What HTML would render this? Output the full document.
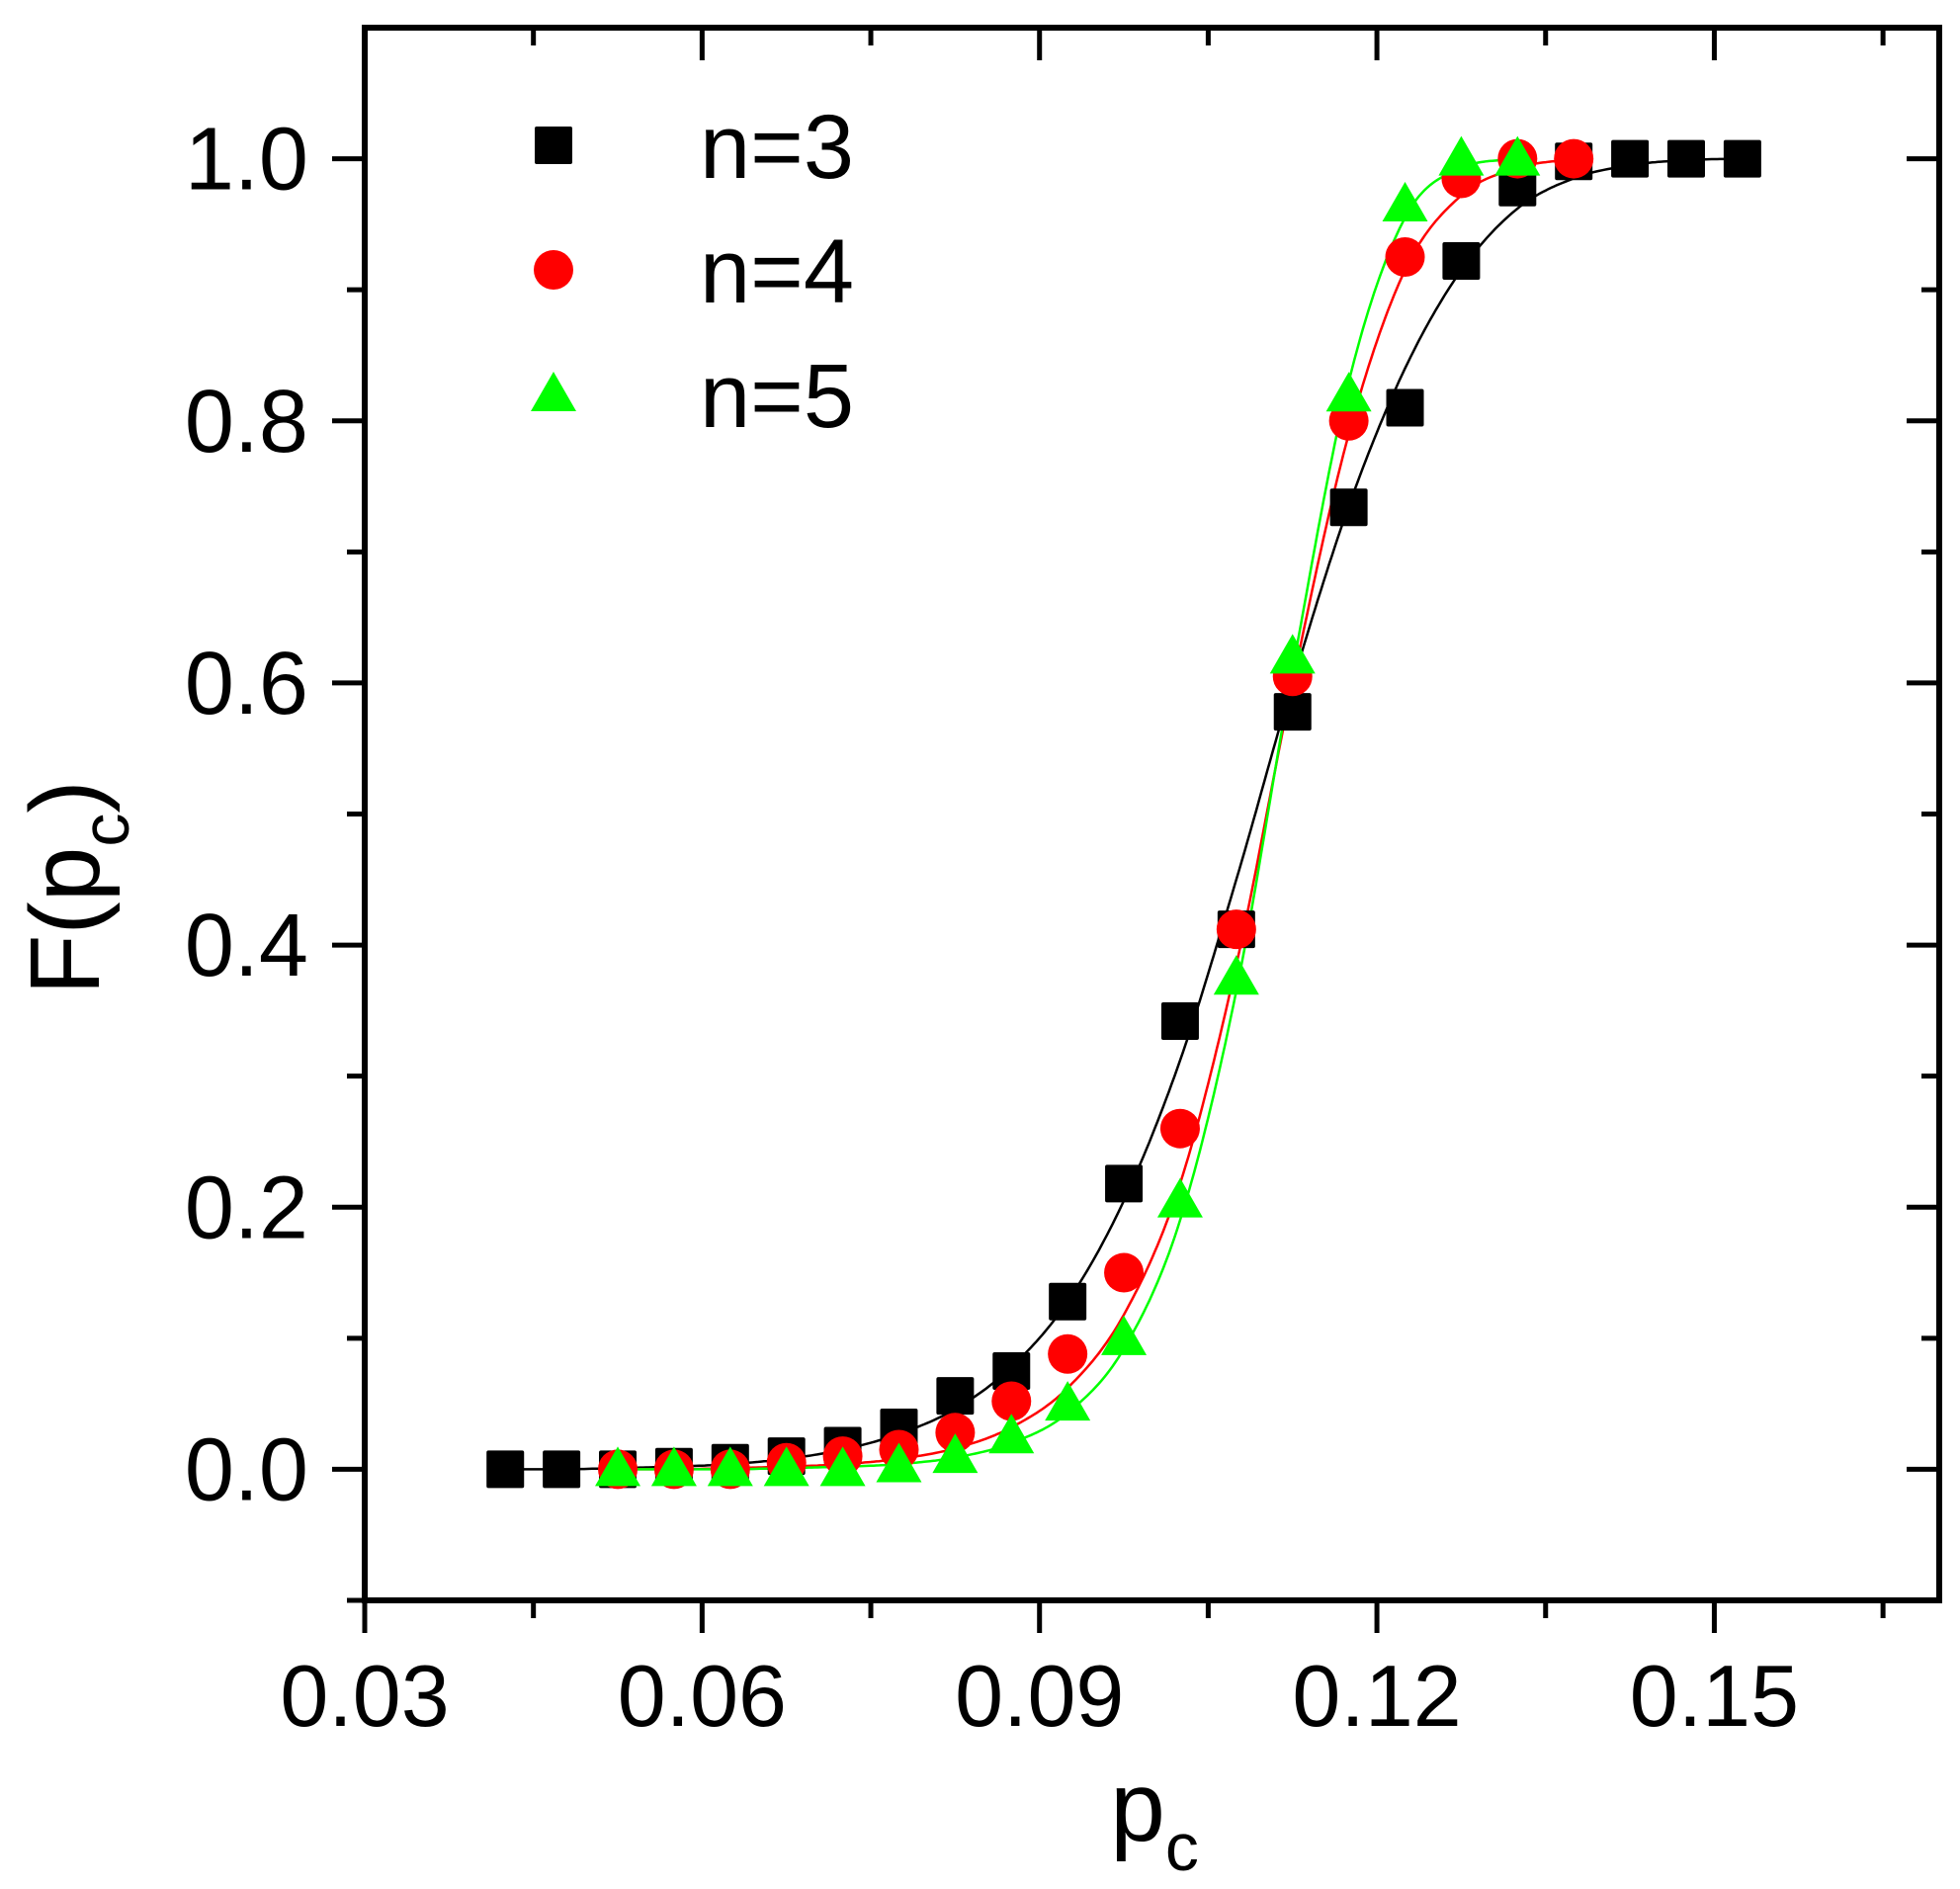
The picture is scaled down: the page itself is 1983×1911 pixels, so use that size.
<!DOCTYPE html>
<html><head><meta charset="utf-8"><style>
html,body{margin:0;padding:0;background:#fff;}
svg{display:block;font-family:"Liberation Sans",Arial,sans-serif;}
</style></head><body>
<svg id="s" width="1983" height="1911" xmlns="http://www.w3.org/2000/svg"></svg>
<script>
const s=document.getElementById('s');
const L=369,R=1962,T=28,B=1619;
const X=v=>L+(v-0.03)/0.14*(R-L);
const Y=v=>B-(v+0.1)/1.2*(B-T);
let h='';
const d3=[0,0,0,0.002,0.005,0.01,0.018,0.032,0.056,0.075,0.128,0.218,0.342,0.412,0.578,0.734,0.81,0.922,0.978,0.998,1,1,1];
const d4=[0,0,0,0.005,0.01,0.015,0.028,0.052,0.088,0.15,0.26,0.412,0.605,0.8,0.925,0.985,1,1];
const d5=[0,0,0,0,0,0.003,0.01,0.025,0.05,0.1,0.205,0.375,0.62,0.82,0.965,1,1];
// smoothed fit values (slightly smoothed versions of data)
const c3=[0,0,0.001,0.002,0.004,0.008,0.015,0.027,0.046,0.078,0.128,0.205,0.312,0.45,0.6,0.735,0.84,0.915,0.962,0.985,0.995,0.999,1];
const c4=[0,0,0.001,0.002,0.004,0.008,0.016,0.032,0.062,0.118,0.218,0.385,0.6,0.79,0.915,0.972,0.993,1];
const c5=[0,0,0,0.001,0.002,0.004,0.009,0.02,0.043,0.092,0.19,0.365,0.61,0.83,0.955,0.993,1];
function mono(xs,ys,col){
 const n=xs.length,dl=[],m=[];
 for(let i=0;i<n-1;i++)dl.push((ys[i+1]-ys[i])/(xs[i+1]-xs[i]));
 m[0]=dl[0];m[n-1]=dl[n-2];
 for(let i=1;i<n-1;i++){m[i]=(dl[i-1]*dl[i]<=0)?0:(dl[i-1]+dl[i])/2;}
 for(let i=0;i<n-1;i++){if(dl[i]==0){m[i]=0;m[i+1]=0;continue;}let a=m[i]/dl[i],b=m[i+1]/dl[i],t=a*a+b*b;if(t>9){let k=3/Math.sqrt(t);m[i]=k*a*dl[i];m[i+1]=k*b*dl[i];}}
 let p='M'+X(xs[0]).toFixed(1)+','+Y(ys[0]).toFixed(1);
 for(let i=0;i<n-1;i++){const hh=xs[i+1]-xs[i];
  for(let j=1;j<=20;j++){const t=j/20,t2=t*t,t3=t2*t;
   const y=(2*t3-3*t2+1)*ys[i]+(t3-2*t2+t)*hh*m[i]+(-2*t3+3*t2)*ys[i+1]+(t3-t2)*hh*m[i+1];
   p+='L'+X(xs[i]+t*hh).toFixed(1)+','+Y(y).toFixed(1);}}
 return `<path d="${p}" fill="none" stroke="${col}" stroke-width="2.5"/>`;
}
const xs=(x0,n)=>Array.from({length:n},(_,i)=>x0+0.005*i);
h+=mono(xs(0.0425,c3.length),c3,'#000');
h+=mono(xs(0.0525,c4.length),c4,'#ff0000');
h+=mono(xs(0.0525,c5.length),c5,'#00ff00');
d3.forEach((v,i)=>{let x=X(0.0425+0.005*i),y=Y(v);h+=`<rect x="${x-19}" y="${y-19}" width="38" height="38" rx="2" fill="#000"/>`;});
d4.forEach((v,i)=>{let x=X(0.0525+0.005*i),y=Y(v);h+=`<circle cx="${x}" cy="${y}" r="20" fill="#ff0000"/>`;});
d5.forEach((v,i)=>{let x=X(0.0525+0.005*i),y=Y(v);h+=`<polygon points="${x},${y-23} ${x+23},${y+17} ${x-23},${y+17}" fill="#00ff00"/>`;});
h+=`<rect x="${L}" y="${T}" width="${R-L}" height="${B-T}" fill="none" stroke="#000" stroke-width="6"/>`;
for(let k=0;k<=9;k++){let v=0.03+0.015*k;if(v>0.1701)break;let x=X(v),maj=k%2==0,len=maj?33:18;
h+=`<line x1="${x}" y1="${B}" x2="${x}" y2="${B+len}" stroke="#000" stroke-width="5"/>`;
h+=`<line x1="${x}" y1="${T}" x2="${x}" y2="${T+len}" stroke="#000" stroke-width="5"/>`;
if(maj)h+=`<text x="${x}" y="1746" font-size="88" text-anchor="middle">${v.toFixed(2)}</text>`;}
for(let k=0;k<=11;k++){let v=-0.1+0.1*k;let y=Y(v),maj=k%2==1,len=maj?33:18;
h+=`<line x1="${L}" y1="${y}" x2="${L-len}" y2="${y}" stroke="#000" stroke-width="5"/>`;
h+=`<line x1="${R}" y1="${y}" x2="${R-len}" y2="${y}" stroke="#000" stroke-width="5"/>`;
if(maj)h+=`<text x="312" y="${y+31}" font-size="90" text-anchor="end">${Math.abs(v).toFixed(1)}</text>`;}
h+=`<text x="1168" y="1862" font-size="100" text-anchor="middle">p<tspan font-size="68" dy="30">c</tspan></text>`;
h+=`<text transform="translate(100,898) rotate(-90)" font-size="100" text-anchor="middle">F(p<tspan font-size="68" dy="30">c</tspan><tspan dy="-30">)</tspan></text>`;
h+=`<rect x="541" y="128" width="38" height="38" rx="2" fill="#000"/>`;
h+=`<circle cx="560" cy="273" r="20" fill="#ff0000"/>`;
h+=`<polygon points="560,376 583,416 537,416" fill="#00ff00"/>`;
h+=`<text x="708" y="180" font-size="92">n=3</text>`;
h+=`<text x="708" y="306" font-size="92">n=4</text>`;
h+=`<text x="708" y="432" font-size="92">n=5</text>`;
s.innerHTML=h;
</script>
</body></html>
